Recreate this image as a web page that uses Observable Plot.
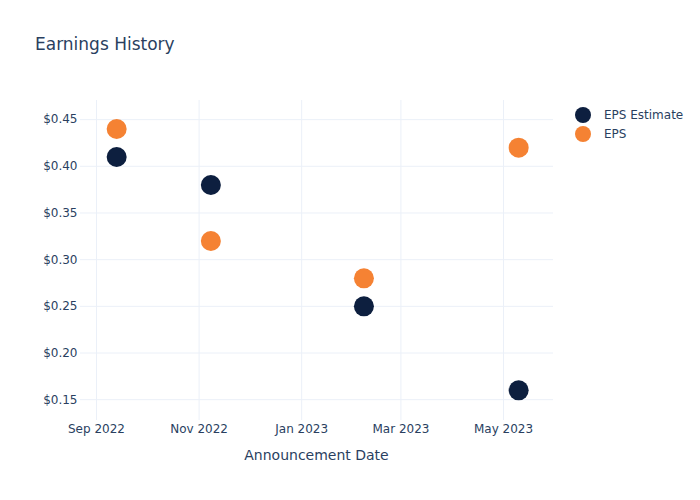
<!DOCTYPE html>
<html>
<head>
<meta charset="utf-8">
<script src="https://cdn.jsdelivr.net/npm/d3@7"></script>
<script src="https://cdn.jsdelivr.net/npm/@observablehq/plot@0.6"></script>
<style>
  body { margin: 0; background: #fff; font-family: "DejaVu Sans", sans-serif; }
  #wrap { position: relative; width: 700px; height: 500px; }
  #title { position: absolute; left: 35px; top: 34px; font-size: 17px; color: #2a3f5f; }
  #xlabel { position: absolute; left: 80px; width: 473px; top: 447px; text-align: center; font-size: 14px; color: #2a3f5f; }
  #legend { position: absolute; left: 574px; top: 105px; font-size: 12px; color: #2a3f5f; }
  .item { display: flex; align-items: center; height: 19px; }
  .sw { width: 16px; height: 16px; border-radius: 50%; margin-right: 13px; margin-left: 1px; }
</style>
</head>
<body>
<div id="wrap">
  <div id="title">Earnings History</div>
  <div id="chart"></div>
  <div id="xlabel">Announcement Date</div>
  <div id="legend"></div>
</div>
<script>
const dates = ["2022-09-13", "2022-11-08", "2023-02-07", "2023-05-10"];
const epsEstimate = [0.41, 0.38, 0.25, 0.16];
const eps = [0.44, 0.32, 0.28, 0.42];
const seriesNames = ["EPS Estimate", "EPS"];
const seriesColors = ["#0d1f3f", "#f58233"];
const yTicks = [0.15, 0.20, 0.25, 0.30, 0.35, 0.40, 0.45];
const xTickDates = ["2022-09-01", "2022-11-01", "2023-01-01", "2023-03-01", "2023-05-01"];

const parse = d3.utcParse("%Y-%m-%d");
const estData = dates.map((d, i) => ({date: parse(d), value: epsEstimate[i]}));
const epsData = dates.map((d, i) => ({date: parse(d), value: eps[i]}));

const chart = Plot.plot({
  width: 700,
  height: 500,
  marginLeft: 80,
  marginRight: 147,
  marginTop: 100,
  marginBottom: 80,
  style: {fontFamily: "'DejaVu Sans', sans-serif", fontSize: "12px", color: "#2a3f5f", background: "#fff"},
  x: {type: "utc", domain: [new Date(Date.UTC(2022, 7, 22, 12)), new Date(Date.UTC(2023, 4, 30, 17))]},
  y: {domain: [0.1277, 0.4705]},
  marks: [
    Plot.gridX(xTickDates.map(parse), {stroke: "#ebf0f8", strokeOpacity: 1, strokeWidth: 1}),
    Plot.gridY(yTicks, {stroke: "#ebf0f8", strokeOpacity: 1, strokeWidth: 1}),
    Plot.axisX(xTickDates.map(parse), {tickSize: 0, tickPadding: 4, tickFormat: d3.utcFormat("%b %Y"), label: null, fill: "#2a3f5f", fontSize: 12}),
    Plot.axisY(yTicks, {tickSize: 0, tickPadding: 3, tickFormat: d => "$" + d.toFixed(2), label: null, fill: "#2a3f5f", fontSize: 12}),
    Plot.dot(estData, {x: "date", y: "value", r: 10, fill: seriesColors[0], stroke: "none"}),
    Plot.dot(epsData, {x: "date", y: "value", r: 10, fill: seriesColors[1], stroke: "none"})
  ]
});
document.getElementById("chart").appendChild(chart);

const legend = document.getElementById("legend");
seriesNames.forEach((n, i) => {
  const it = document.createElement("div");
  it.className = "item";
  it.innerHTML = `<span class="sw" style="background:${seriesColors[i]}"></span><span>${n}</span>`;
  legend.appendChild(it);
});
</script>
</body>
</html>
